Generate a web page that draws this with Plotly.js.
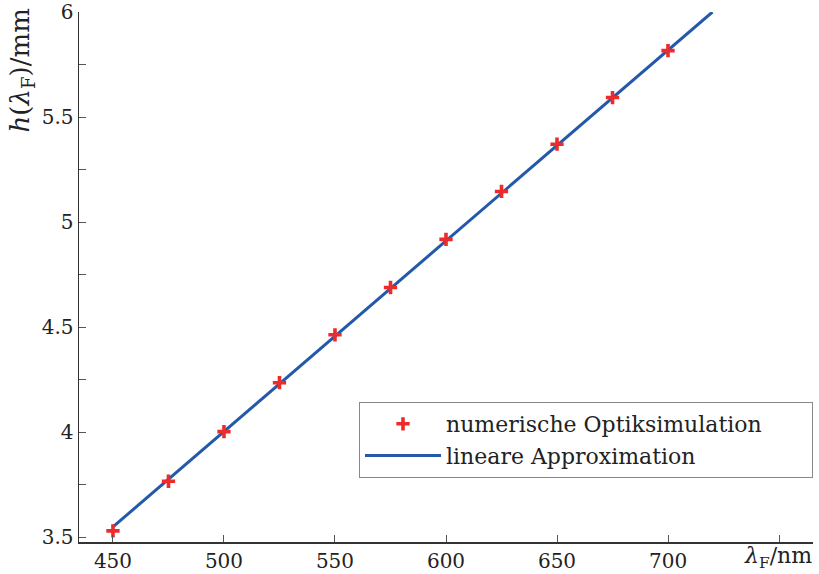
<!DOCTYPE html>
<html>
<head>
<meta charset="utf-8">
<script src="https://cdn.plot.ly/plotly-3.0.1.min.js"></script>
<style>html,body{margin:0;padding:0;background:#fff;}#chart{width:819px;height:574px;}</style>
</head>
<body>
<div id="chart"></div>
<script>
// Simulation points
const wavelengths = [450, 475, 500, 525, 550, 575, 600, 625, 650, 675, 700];
const heights = [3.531, 3.767, 4.003, 4.236, 4.464, 4.689, 4.918, 5.146, 5.371, 5.593, 5.816];
// Linear approximation endpoints
const fitWavelengths = [450, 720];
const fitHeights = [3.55, 6.0];
// Axis ticks
const xTickVals = [450, 500, 550, 600, 650, 700, 750];
const xTickText = ['450', '500', '550', '600', '650', '700', ''];
const yTickVals = [3.5, 3.75, 4, 4.25, 4.5, 4.75, 5, 5.25, 5.5, 5.75, 6];
const yTickText = ['3.5', '', '4', '', '4.5', '', '5', '', '5.5', '', '6'];
const seriesNames = ['numerische Optiksimulation', 'lineare Approximation'];
const xTitle = '<i>λ</i><sub>F</sub>/nm';
const yTitle = '<i>h</i>(<i>λ</i><sub>F</sub>)/mm';

const font = {family: 'DejaVu Serif', size: 20, color: '#222'};

const traces = [
  {
    x: wavelengths, y: heights, type: 'scatter', mode: 'markers', name: seriesNames[0],
    marker: {symbol: 'cross-thin-open', size: 9.5, color: '#ee2b2b', line: {width: 3.6, color: '#ee2b2b'}}
  },
  {
    x: fitWavelengths, y: fitHeights, type: 'scatter', mode: 'lines', name: seriesNames[1],
    line: {color: '#2459aa', width: 3}
  }
];
// draw markers on top of line
const data = [traces[1], traces[0]];

const layout = {
  width: 819, height: 574,
  margin: {l: 79, r: 6, t: 12, b: 32},
  paper_bgcolor: '#fff', plot_bgcolor: '#fff',
  font: font,
  showlegend: true,
  legend: {
    orientation: 'h', entrywidth: 361, entrywidthmode: 'pixels',
    x: 1, xanchor: 'right', y: 0.1208, yanchor: 'bottom',
    bordercolor: '#888', borderwidth: 1, bgcolor: '#fff',
    font: {family: 'DejaVu Serif', size: 22, color: '#222'},
    traceorder: 'reversed', itemwidth: 76
  },
  xaxis: {
    range: [434.7, 765.3], showgrid: false, zeroline: false,
    showline: true, linecolor: '#333', linewidth: 1.5,
    ticks: 'inside', ticklen: 7, tickcolor: '#555', tickwidth: 1,
    tickmode: 'array', tickvals: xTickVals, ticktext: xTickText,
    tickfont: font, mirror: false
  },
  yaxis: {
    range: [3.478, 6.0], showgrid: false, zeroline: false,
    showline: true, linecolor: '#333', linewidth: 1.5,
    ticks: 'inside', ticklen: 7, tickcolor: '#555', tickwidth: 1,
    tickmode: 'array', tickvals: yTickVals, ticktext: yTickText,
    tickfont: font, mirror: false
  },
  annotations: [
    {
      text: yTitle, xref: 'paper', yref: 'paper', x: -0.078, y: 1.01,
      xanchor: 'center', yanchor: 'top', textangle: -90, showarrow: false,
      font: {family: 'DejaVu Serif', size: 26, color: '#222'}
    },
    {
      text: xTitle, xref: 'paper', yref: 'paper', x: 1, y: -0.0585,
      xanchor: 'right', yanchor: 'bottom', showarrow: false, borderpad: 0,
      font: {family: 'DejaVu Serif', size: 22, color: '#222'}
    }
  ]
};

Plotly.newPlot('chart', data, layout, {displayModeBar: false, staticPlot: true});
</script>
</body>
</html>
